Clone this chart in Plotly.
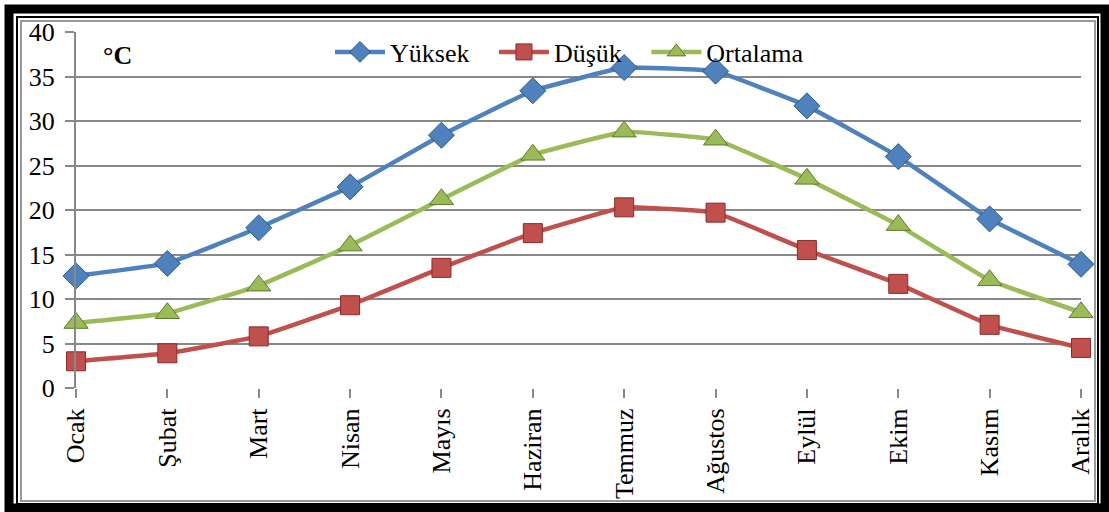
import plotly.graph_objs as go

months = ["Ocak", "Şubat", "Mart", "Nisan", "Mayıs", "Haziran",
          "Temmuz", "Ağustos", "Eylül", "Ekim", "Kasım", "Aralık"]
yuksek = [12.6, 14.0, 18.0, 22.6, 28.4, 33.4, 36.0, 35.6, 31.7, 26.0, 19.0, 13.9]
dusuk = [3.0, 3.9, 5.8, 9.3, 13.5, 17.4, 20.3, 19.7, 15.5, 11.7, 7.1, 4.5]
ortalama = [7.3, 8.4, 11.5, 16.0, 21.2, 26.2, 28.8, 27.9, 23.5, 18.3, 12.1, 8.5]
y_ticks = [0, 5, 10, 15, 20, 25, 30, 35, 40]

FONT = "Liberation Serif, Times New Roman, serif"
W, H = 1109, 512
L, R, T, B = 76, 1081, 32, 388  # plot area in pixels

def px(x, y):
    # pixel -> paper coordinates
    return (x - L) / (R - L), (B - y) / (B - T)

NB = "\u00a0"
series = [
    ("Yüksek" + NB * 3, yuksek, "#4F81BD", "#2C5A8E", "diamond", 20),
    ("Düşük" + NB * 3, dusuk, "#C0504D", "#8B2A28", "square", 19),
    ("Ortalama", ortalama, "#9BBB59", "#5E7A2A", "triangle-up", 21),
]

fig = go.Figure()
for name, vals, col, edge, sym, size in series:
    fig.add_trace(go.Scatter(
        x=months, y=vals, name=name,
        mode="lines+markers", cliponaxis=False,
        line=dict(color=col, width=4.5, shape="spline", smoothing=0.25),
        marker=dict(symbol=sym, size=size, color=col,
                    line=dict(color=edge, width=1)),
    ))

# frame: thick black, thin black, thin gray
shapes = []
for (x0, y0, x1, y1, c, w) in [
    (9, 9, 1105, 508, "black", 9),
    (17, 17, 1098, 504, "black", 2),
    (21, 21, 1095, 501, "#999999", 2),
]:
    a0, b0 = px(x0, y0)
    a1, b1 = px(x1, y1)
    shapes.append(dict(type="rect", xref="paper", yref="paper",
                       x0=a0, y0=b0, x1=a1, y1=b1,
                       line=dict(color=c, width=w), layer="above"))

cx, cy = px(101, 55)
fig.update_layout(
    width=W, height=H,
    margin=dict(l=L, r=W - R, t=T, b=H - B),
    paper_bgcolor="white", plot_bgcolor="white",
    font=dict(family=FONT, size=25, color="black"),
    shapes=shapes,
    showlegend=True,
    legend=dict(orientation="h", x=px(330, 0)[0], y=px(0, 52)[1],
                xanchor="left", yanchor="middle",
                bgcolor="rgba(0,0,0,0)", itemwidth=50,
                font=dict(family=FONT, size=26)),
    annotations=[dict(text="<b>°C</b>", x=cx, y=cy, xref="paper", yref="paper",
                      xanchor="left", yanchor="middle", showarrow=False,
                      font=dict(family=FONT, size=26))],
)
fig.update_xaxes(
    type="category", range=[0, 11], tickangle=-90, automargin=False,
    showgrid=False, showline=False, zeroline=False,
    ticks="outside", ticklen=9, tickcolor="#888888", tickwidth=2,
    tickfont=dict(family=FONT, size=26),
)
fig.update_yaxes(
    range=[0, 40], tickvals=y_ticks, automargin=False, ticklabelstandoff=5,
    showgrid=True, gridcolor="#888888", gridwidth=2,
    showline=True, linecolor="#888888", linewidth=2, zeroline=False,
    ticks="outside", ticklen=9, tickcolor="#888888", tickwidth=2,
    tickfont=dict(family=FONT, size=26),
)
fig.write_html("out.html", config={"displayModeBar": False},
               post_script="document.body.style.margin='0px';")
